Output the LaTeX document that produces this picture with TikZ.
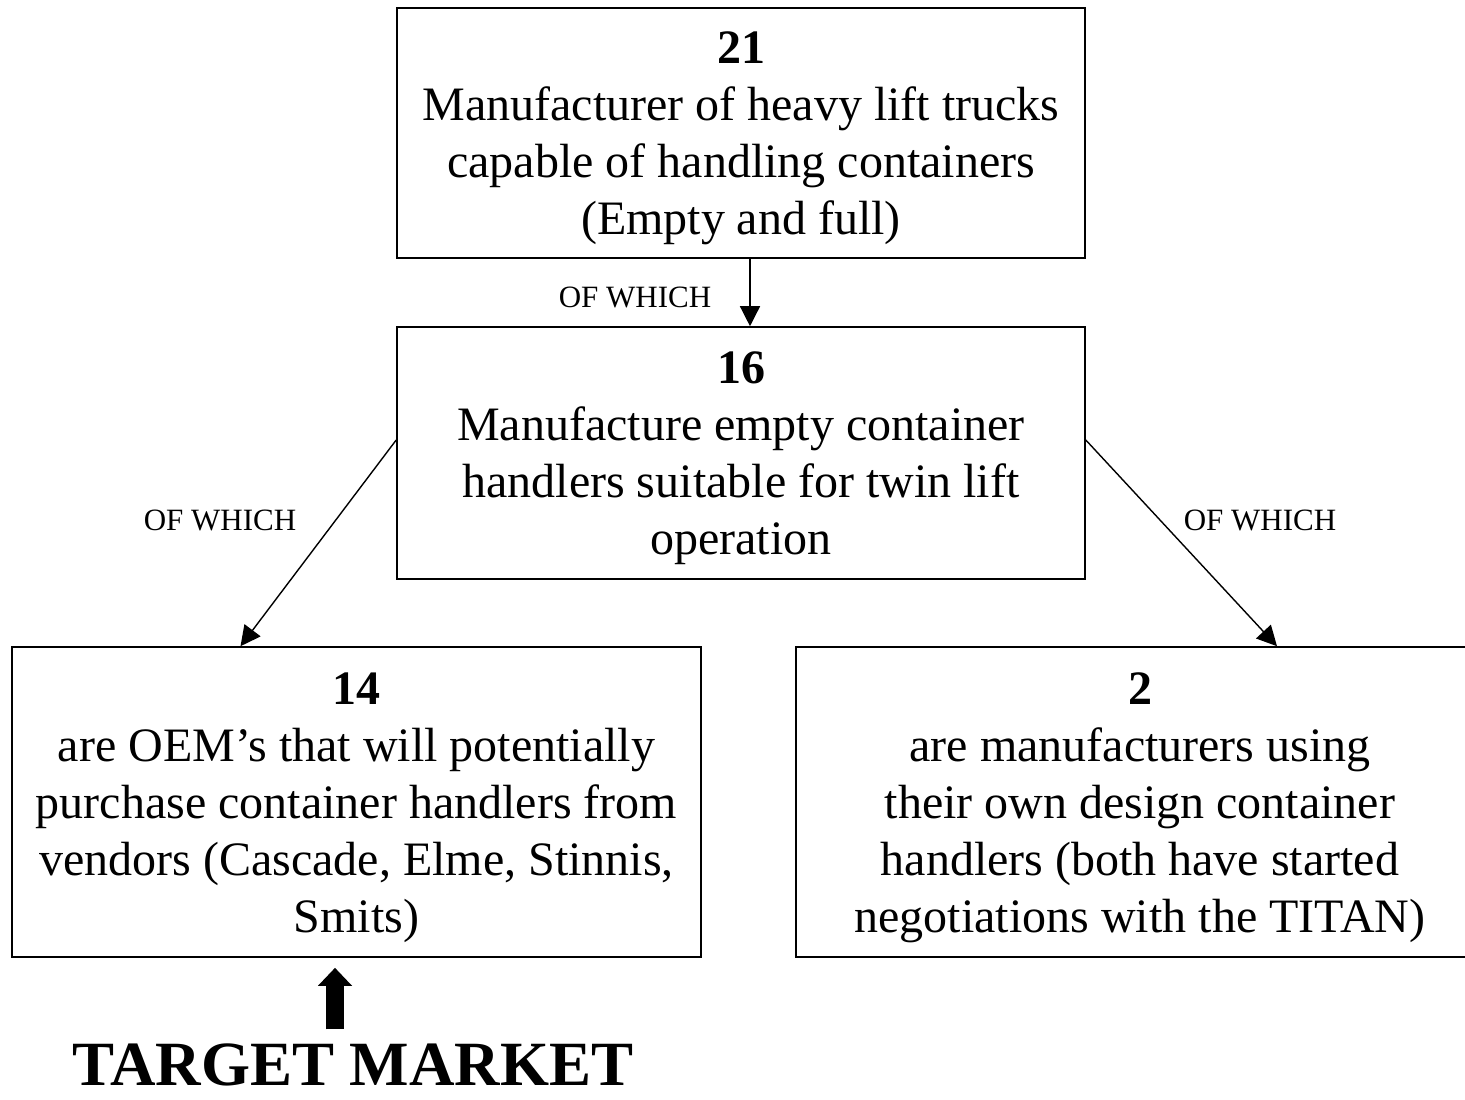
\documentclass[tikz,border=0pt]{standalone}
\usepackage{fontspec}
\setmainfont{Liberation Serif}
\usetikzlibrary{arrows.meta}

\newcommand{\toplift}{\rule{0pt}{21.5pt}}

\tikzset{
  stagebox/.style={draw, line width=0.8pt, inner sep=0pt, align=center,
    font=\fontsize{24}{28.5}\selectfont},
  ofwhich/.style={font=\fontsize{15.5}{18}\selectfont, inner sep=0pt},
  flow/.style={-{Triangle[length=10pt,width=10pt]}, line width=0.7pt},
  bigarrow/.style={-{Triangle[length=9pt,width=16.5pt]}, line width=9pt}
}

\begin{document}
\begin{tikzpicture}[x=0.5pt, y=-0.5pt, line join=miter]

% cadre (l'image coupe la boite de droite)
\clip (0,0) rectangle (1465,1099);

% Boites
\node[stagebox, minimum width=344pt, minimum height=125pt] (total) at (741,133)
  {\toplift\textbf{21}\\ Manufacturer of heavy lift trucks\\ capable of handling containers\\ (Empty and full)};
\node[stagebox, minimum width=344pt, minimum height=126pt] (twin) at (741,453)
  {\toplift\textbf{16}\\ Manufacture empty container\\ handlers suitable for twin lift\\ operation};
\node[stagebox, minimum width=344.5pt, minimum height=155pt] (oem) at (356.5,802)
  {\toplift\textbf{14}\\ are OEM’s that will potentially\\ purchase container handlers from\\ vendors (Cascade, Elme, Stinnis,\\ Smits)};
\node[stagebox, minimum width=344pt, minimum height=155pt] (own) at (1140,802)
  {\toplift\textbf{2}\\ are manufacturers using\\ their own design container\\ handlers (both have started\\ negotiations with the TITAN)};

% Fleches
\draw[flow] ([xshift=4.5pt]total.south) -- ([xshift=4.5pt]twin.north);
\draw[flow] ([yshift=6.5pt]twin.west) -- ([xshift=-58pt]oem.north);
\draw[flow] ([yshift=6.5pt]twin.east) -- ([xshift=68.5pt]own.north);

% Etiquettes
\node[ofwhich] (ofa) at (635,297) {OF WHICH};
\node[ofwhich] (ofb) at (220,520) {OF WHICH};
\node[ofwhich] (ofc) at (1260,520) {OF WHICH};

% Marche cible
\node[font=\fontsize{31.5}{36}\selectfont\bfseries, inner sep=0pt] (target) at (353,1065) {TARGET MARKET};
\draw[bigarrow] ([xshift=-9pt,yshift=7pt]target.north) -- ([xshift=-9pt,yshift=-5pt]target.north |- oem.south);

\end{tikzpicture}
\end{document}
